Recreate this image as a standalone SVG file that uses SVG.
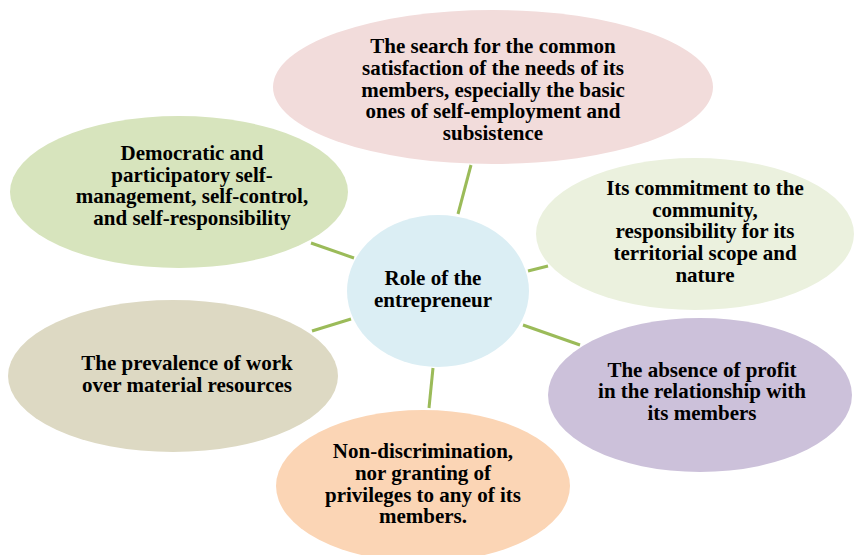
<svg xmlns="http://www.w3.org/2000/svg" width="854" height="555" viewBox="0 0 854 555">
  <style>
    .lbl { font-family: "Liberation Serif", "Times New Roman", serif; font-weight: bold; font-size: 21px; fill: #000; text-anchor: middle; }
    .conn { stroke: #9bbb59; stroke-width: 3; fill: none; }
  </style>
  <rect width="854" height="555" fill="#ffffff"/>

  <g id="connectors">
    <line class="conn" x1="471" y1="165" x2="458" y2="214"/>
    <line class="conn" x1="311" y1="243" x2="354" y2="258"/>
    <line class="conn" x1="528" y1="271" x2="548" y2="266"/>
    <line class="conn" x1="312" y1="331" x2="351" y2="319"/>
    <line class="conn" x1="523" y1="325" x2="580" y2="345"/>
    <line class="conn" x1="433" y1="368" x2="429" y2="408"/>
  </g>

  <g id="node-needs">
    <ellipse cx="493" cy="87" rx="220" ry="77" fill="#f2dcdb"/>
    <text class="lbl" x="493" y="53">The search for the common</text>
    <text class="lbl" x="493" y="75">satisfaction of the needs of its</text>
    <text class="lbl" x="493" y="97">members, especially the basic</text>
    <text class="lbl" x="493" y="118">ones of self-employment and</text>
    <text class="lbl" x="493" y="140">subsistence</text>
  </g>

  <g id="node-democratic">
    <ellipse cx="179" cy="192" rx="169" ry="76" fill="#d7e4bd"/>
    <text class="lbl" x="192" y="160">Democratic and</text>
    <text class="lbl" x="192" y="182">participatory self-</text>
    <text class="lbl" x="192" y="203">management, self-control,</text>
    <text class="lbl" x="192" y="225">and self-responsibility</text>
  </g>

  <g id="node-community">
    <ellipse cx="695" cy="234" rx="159" ry="76" fill="#ebf1de"/>
    <text class="lbl" x="705" y="195">Its commitment to the</text>
    <text class="lbl" x="705" y="217">community,</text>
    <text class="lbl" x="705" y="238">responsibility for its</text>
    <text class="lbl" x="705" y="260">territorial scope and</text>
    <text class="lbl" x="705" y="282">nature</text>
  </g>

  <g id="node-center">
    <ellipse cx="438" cy="291" rx="91" ry="76" fill="#dbeef4"/>
    <text class="lbl" x="433" y="285">Role of the</text>
    <text class="lbl" x="433" y="307">entrepreneur</text>
  </g>

  <g id="node-work">
    <ellipse cx="173" cy="376" rx="165" ry="76" fill="#ddd9c3"/>
    <text class="lbl" x="187" y="370">The prevalence of work</text>
    <text class="lbl" x="187" y="392">over material resources</text>
  </g>

  <g id="node-profit">
    <ellipse cx="700" cy="395" rx="152" ry="77" fill="#ccc1da"/>
    <text class="lbl" x="702" y="377">The absence of profit</text>
    <text class="lbl" x="702" y="398">in the relationship with</text>
    <text class="lbl" x="702" y="420">its members</text>
  </g>

  <g id="node-nondiscrimination">
    <ellipse cx="423" cy="486" rx="147" ry="76" fill="#fbd5b5"/>
    <text class="lbl" x="423" y="458">Non-discrimination,</text>
    <text class="lbl" x="423" y="480">nor granting of</text>
    <text class="lbl" x="423" y="502">privileges to any of its</text>
    <text class="lbl" x="423" y="523">members.</text>
  </g>
</svg>
